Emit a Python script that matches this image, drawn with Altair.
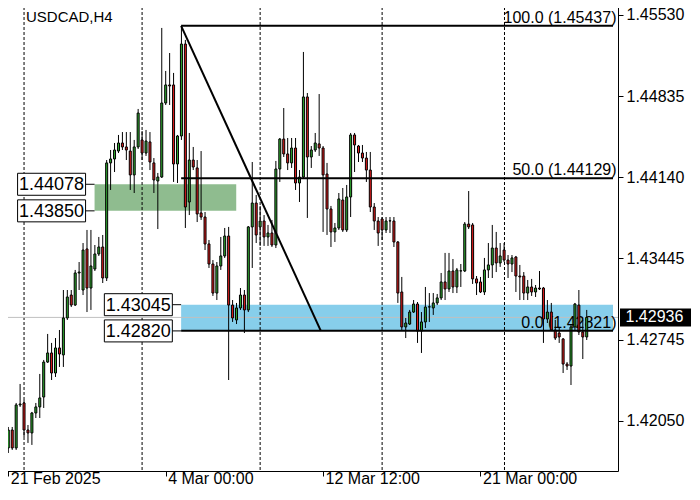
import json
import altair as alt
import pandas as pd

# ---- H4 candles, USDCAD ----
opens = [1.41816, 1.41970, 1.41816, 1.42185, 1.42202, 1.41970, 1.41945, 1.42116, 1.42168, 1.42253,
         1.42553, 1.42631, 1.42459, 1.42674, 1.42614, 1.42931, 1.43128, 1.43042, 1.43317, 1.43171,
         1.43523, 1.43188, 1.43351, 1.43480, 1.43540, 1.43274, 1.44261, 1.44295, 1.44363, 1.44432,
         1.44398, 1.44363, 1.44158, 1.44398, 1.44458, 1.44346, 1.44441, 1.44261, 1.44106, 1.44140,
         1.44775, 1.44930, 1.44930, 1.44252, 1.44492, 1.45281, 1.43926, 1.44286, 1.44218, 1.43832,
         1.43797, 1.43566, 1.43394, 1.43145, 1.43377, 1.43463, 1.43634, 1.43042, 1.42914, 1.43017,
         1.43128, 1.43000, 1.43712, 1.43917, 1.43712, 1.43763, 1.43626, 1.43660, 1.43557, 1.44209,
         1.44466, 1.44338, 1.44261, 1.44389, 1.44089, 1.44140, 1.44827, 1.44312, 1.44372, 1.44424,
         1.44389, 1.44166, 1.43866, 1.43669, 1.43703, 1.43943, 1.43686, 1.43969, 1.44501, 1.44406,
         1.44346, 1.44303, 1.44200, 1.43883, 1.43763, 1.43780, 1.43686, 1.43763, 1.43763, 1.43583,
         1.43154, 1.42854, 1.42879, 1.42982, 1.43051, 1.42819, 1.42897, 1.43025, 1.43017, 1.43060,
         1.43103, 1.43240, 1.43180, 1.43334, 1.43197, 1.43334, 1.43334, 1.43737, 1.43729, 1.43266,
         1.43240, 1.43154, 1.43343, 1.43386, 1.43531, 1.43403, 1.43514, 1.43428, 1.43394, 1.43454,
         1.43291, 1.43291, 1.43145, 1.43197, 1.43154, 1.43188, 1.43188, 1.42922, 1.42982, 1.42828,
         1.42802, 1.42751, 1.42536, 1.42519, 1.42854, 1.43042, 1.42811, 1.42768]
highs = [1.41996, 1.41996, 1.42202, 1.42365, 1.42228, 1.42013, 1.42125, 1.42202, 1.42451, 1.42571,
         1.42794, 1.42717, 1.42759, 1.42828, 1.43171, 1.43171, 1.43171, 1.43343, 1.43411, 1.43574,
         1.43686, 1.43686, 1.43557, 1.43626, 1.43643, 1.44286, 1.44372, 1.44432, 1.44501, 1.44526,
         1.44526, 1.44526, 1.44458, 1.44724, 1.44535, 1.44544, 1.44526, 1.44303, 1.44175, 1.45419,
         1.45050, 1.45204, 1.45033, 1.44501, 1.45437, 1.45316, 1.44518, 1.44398, 1.44286, 1.44363,
         1.43840, 1.43600, 1.43428, 1.43411, 1.43626, 1.43703, 1.43712, 1.43085, 1.43060, 1.43188,
         1.43171, 1.43720, 1.44269, 1.43986, 1.43892, 1.43814, 1.43729, 1.43772, 1.44278, 1.44475,
         1.44732, 1.44475, 1.44475, 1.44475, 1.44200, 1.45213, 1.44861, 1.44406, 1.44518, 1.44852,
         1.44406, 1.44261, 1.43892, 1.43746, 1.44003, 1.44046, 1.44072, 1.44518, 1.44518, 1.44415,
         1.44415, 1.44355, 1.44355, 1.43917, 1.43797, 1.43797, 1.43797, 1.43797, 1.43797, 1.43591,
         1.43283, 1.42931, 1.43000, 1.43085, 1.43068, 1.42982, 1.43197, 1.43145, 1.43145, 1.43137,
         1.43317, 1.43489, 1.43489, 1.43437, 1.43360, 1.43394, 1.43754, 1.44020, 1.43746, 1.43291,
         1.43283, 1.43446, 1.43574, 1.43729, 1.43669, 1.43574, 1.43574, 1.43471, 1.43471, 1.43463,
         1.43386, 1.43325, 1.43257, 1.43266, 1.43214, 1.43334, 1.43197, 1.43085, 1.43060, 1.42914,
         1.42854, 1.42759, 1.42553, 1.42871, 1.43060, 1.43171, 1.42914, 1.43000]
lows = [1.41773, 1.41799, 1.41799, 1.42168, 1.41910, 1.41859, 1.41842, 1.42073, 1.42073, 1.42159,
        1.42545, 1.42399, 1.42425, 1.42511, 1.42511, 1.42914, 1.43025, 1.43034, 1.43171, 1.43128,
        1.42982, 1.43000, 1.43334, 1.43463, 1.43231, 1.43248, 1.44029, 1.44183, 1.44346, 1.44372,
        1.44286, 1.44029, 1.44003, 1.44381, 1.44286, 1.44321, 1.44200, 1.44003, 1.43694, 1.44132,
        1.44758, 1.44758, 1.44098, 1.44089, 1.44458, 1.43703, 1.43814, 1.44200, 1.43754, 1.43772,
        1.43514, 1.43360, 1.43120, 1.43085, 1.43343, 1.43446, 1.42399, 1.42897, 1.42879, 1.43000,
        1.42802, 1.42982, 1.43360, 1.43574, 1.43549, 1.43549, 1.43549, 1.43540, 1.43531, 1.44098,
        1.44312, 1.44200, 1.44218, 1.44029, 1.43926, 1.44132, 1.43789, 1.44218, 1.44355, 1.44321,
        1.43669, 1.43643, 1.43540, 1.43583, 1.43686, 1.43669, 1.43669, 1.43797, 1.44183, 1.44269,
        1.44269, 1.44098, 1.43840, 1.43686, 1.43549, 1.43600, 1.43660, 1.43660, 1.43540, 1.43060,
        1.42828, 1.42759, 1.42871, 1.42974, 1.42717, 1.42631, 1.42845, 1.42897, 1.42957, 1.43042,
        1.43085, 1.43085, 1.43154, 1.43145, 1.43145, 1.43197, 1.43325, 1.43694, 1.43223, 1.43128,
        1.43145, 1.43128, 1.43274, 1.43274, 1.43325, 1.43369, 1.43411, 1.43274, 1.43325, 1.43154,
        1.43085, 1.43085, 1.43085, 1.43120, 1.43111, 1.43171, 1.42717, 1.42888, 1.42819, 1.42742,
        1.42717, 1.42459, 1.42485, 1.42356, 1.42828, 1.42785, 1.42579, 1.42742]
closes = [1.41970, 1.41816, 1.42185, 1.42193, 1.41970, 1.41945, 1.42116, 1.42168, 1.42245, 1.42553,
          1.42631, 1.42459, 1.42674, 1.42622, 1.42931, 1.43111, 1.43042, 1.43317, 1.43325, 1.43514,
          1.43188, 1.43377, 1.43480, 1.43540, 1.43274, 1.44261, 1.44295, 1.44372, 1.44432, 1.44398,
          1.44372, 1.44158, 1.44398, 1.44689, 1.44346, 1.44449, 1.44269, 1.44115, 1.44140, 1.44775,
          1.44930, 1.44921, 1.44252, 1.44492, 1.45281, 1.43883, 1.44286, 1.44226, 1.43823, 1.43797,
          1.43566, 1.43394, 1.43145, 1.43377, 1.43463, 1.43634, 1.43042, 1.42931, 1.43017, 1.43128,
          1.43000, 1.43712, 1.43917, 1.43643, 1.43763, 1.43626, 1.43660, 1.43557, 1.44209, 1.44466,
          1.44338, 1.44261, 1.44389, 1.44089, 1.44140, 1.44827, 1.44312, 1.44372, 1.44432, 1.44389,
          1.44158, 1.43866, 1.43669, 1.43703, 1.43952, 1.43686, 1.43969, 1.44501, 1.44415, 1.44346,
          1.44303, 1.44200, 1.43883, 1.43763, 1.43660, 1.43686, 1.43763, 1.43765, 1.43583, 1.43145,
          1.42854, 1.42888, 1.42982, 1.43051, 1.42819, 1.42897, 1.43025, 1.43027, 1.43060, 1.43103,
          1.43240, 1.43180, 1.43334, 1.43197, 1.43343, 1.43336, 1.43737, 1.43712, 1.43266, 1.43231,
          1.43154, 1.43343, 1.43386, 1.43531, 1.43403, 1.43463, 1.43428, 1.43394, 1.43446, 1.43291,
          1.43283, 1.43145, 1.43197, 1.43154, 1.43188, 1.43180, 1.42922, 1.42982, 1.42828, 1.42759,
          1.42768, 1.42536, 1.42519, 1.42854, 1.43051, 1.42811, 1.42768, 1.42936]

# axis ticks
y_ticks = [1.42050, 1.42745, 1.43445, 1.44140, 1.44835, 1.45530]
x_tick_pos = [0, 40, 80, 120]
x_tick_labels = ["21 Feb 2025", "4 Mar 00:00", "12 Mar 12:00", "21 Mar 00:00"]
grid_x = [4.0, 34.0, 64.0, 95.0, 126.1]

# annotations
last_price = 1.42936
fib_levels = [100.0, 50.0, 0.0]
fib_prices = [1.45437, 1.44129, 1.42821]
fib_start, fib_end_diag = 43.925, 79.425
zone_names = ["green", "blue"]
zone_top = [1.44078, 1.43045]
zone_bottom = [1.43850, 1.42820]
zone_x1 = [21.925, 43.925]
zone_x2 = [57.925, 153.675]
zone_fill = ["#8FBC8F", "#87CEEB"]
box_x = [11.0, 11.0, 33.05, 33.05]
box_conn_x1 = [19.5, 19.5, 41.5, 41.5]
box_conn_x2 = [21.925, 21.925, 43.925, 43.925]
box_prices = [1.44078, 1.43850, 1.43045, 1.42820]

X_DOMAIN = [-0.075, 153.675]
Y_DOMAIN = [1.416184, 1.456415]
GREEN = "#2FA82F"
RED = "#E01C1C"
FONT = "Liberation Sans"

df = pd.DataFrame({"i": list(range(len(opens))), "open": opens, "high": highs,
                   "low": lows, "close": closes})
df["dir"] = ["up" if c >= o else "down" for o, c in zip(opens, closes)]

xs = alt.Scale(domain=X_DOMAIN, nice=False, zero=False)
ys = alt.Scale(domain=Y_DOMAIN, nice=False, zero=False)

label_expr = "{}[indexof({}, datum.value)]".format(json.dumps(x_tick_labels), json.dumps(x_tick_pos))

x_axis = alt.Axis(values=x_tick_pos, labelExpr=label_expr, labelAlign="left", labelBaseline="alphabetic",
                  labelFont=FONT, labelFontSize=16, labelColor="black", tickColor="black",
                  tickSize=5, labelPadding=7.5, labelOffset=2, domain=False, grid=False, title=None,
                  labelFlush=False, labelOverlap=False)
y_axis = alt.Axis(orient="right", values=y_ticks, format=".5f", labelFont=FONT, labelFontSize=16,
                  labelColor="black", tickColor="black", tickSize=5, labelPadding=3,
                  domain=False, grid=False, title=None, labelBaseline="middle")


def X(field):
    return alt.X(field, type="quantitative", scale=xs, axis=x_axis)


def Y(field):
    return alt.Y(field, type="quantitative", scale=ys, axis=y_axis)


zones = pd.DataFrame({"name": zone_names, "top": zone_top, "bottom": zone_bottom,
                      "x1": zone_x1, "x2": zone_x2, "fill": zone_fill})
zone_layer = alt.Chart(zones).mark_rect().encode(
    x=X("x1"), x2="x2", y=Y("top"), y2="bottom", fill=alt.Fill("fill:N", scale=None))

grid_layer = alt.Chart(pd.DataFrame({"g": grid_x})).mark_rule(
    color="black", strokeWidth=1, strokeDash=[3, 2]).encode(x=X("g"))

price_line = alt.Chart(pd.DataFrame({"p": [last_price]})).mark_rule(
    color="#C0C0C0", strokeWidth=1).encode(y=Y("p"))

fib = pd.DataFrame({"level": fib_levels, "price": fib_prices,
                    "x1": [fib_start] * 3, "x2": [X_DOMAIN[1]] * 3})
fib["label"] = [f"{l:.1f} ({p:.5f})" for l, p in zip(fib_levels, fib_prices)]
fib_text = alt.Chart(fib).mark_text(align="right", baseline="alphabetic", dy=-3,
                                     font=FONT, fontSize=16, color="black").encode(
    x=alt.value(613.5), y=Y("price"), text="label:N")

wicks = alt.Chart(df).mark_rule(color="black", strokeWidth=1, clip=True).encode(
    x=X("i"), y=Y("low"), y2="high")
bodies = alt.Chart(df).mark_bar(size=2, stroke="black", strokeWidth=1, clip=True).encode(
    x=X("i"), y=Y("open"), y2="close",
    color=alt.Color("dir:N", scale=alt.Scale(domain=["up", "down"], range=[GREEN, RED]), legend=None))

fib_lines = alt.Chart(fib).mark_rule(color="black", strokeWidth=2).encode(
    x=X("x1"), x2="x2", y=Y("price"))

diag = alt.Chart(pd.DataFrame({"x": [fib_start, fib_end_diag], "y": [fib_prices[0], fib_prices[2]]})
                 ).mark_line(color="black", strokeWidth=2).encode(x=X("x"), y=Y("y"))

boxes = pd.DataFrame({"x": box_x, "price": box_prices, "c1": box_conn_x1, "c2": box_conn_x2})
boxes["label"] = [f"{p:.5f}" for p in box_prices]
conn = alt.Chart(boxes).mark_rule(color="black", strokeWidth=1).encode(
    x=X("c1"), x2="c2", y=Y("price"))
box_shape = alt.Chart(boxes).mark_point(
    shape="M-3.09,-1L3.09,-1L3.09,1L-3.09,1Z", size=484, filled=True, fill="white",
    stroke="black", strokeWidth=1, opacity=1).encode(x=X("x"), y=Y("price"))
box_text = alt.Chart(boxes).mark_text(font=FONT, fontSize=18, color="black", baseline="middle",
                                      align="center", dy=1).encode(
    x=X("x"), y=Y("price"), text="label:N")

last_df = pd.DataFrame({"p": [last_price], "label": [f"{last_price:.5f}"]})
last_box = alt.Chart(last_df).mark_rule(color="black", strokeWidth=18, clip=False).encode(
    x=alt.value(617), x2=alt.value(688), y=Y("p"))
last_text = alt.Chart(last_df).mark_text(font=FONT, fontSize=16, color="white", align="left",
                                         baseline="middle", clip=False).encode(
    x=alt.value(622.5), y=Y("p"), text="label:N")

title_text = alt.Chart(pd.DataFrame({"t": ["USDCAD,H4"]})).mark_text(
    font=FONT, fontSize=15, color="black", align="left", baseline="alphabetic").encode(
    x=alt.value(23), y=alt.value(19.5), text="t:N")

chart = alt.layer(zone_layer, grid_layer, price_line, fib_text, wicks, bodies, fib_lines, diag,
                  conn, box_shape, box_text, last_box, last_text, title_text).properties(
    width=615, height=469,
    autosize=alt.AutoSizeParams(type="none"),
    padding={"left": -5, "top": -6, "right": 74, "bottom": 16},
    background="white").configure_view(stroke="black", strokeWidth=1)

chart.save("out.html", embed_options={"renderer": "svg", "actions": False})
